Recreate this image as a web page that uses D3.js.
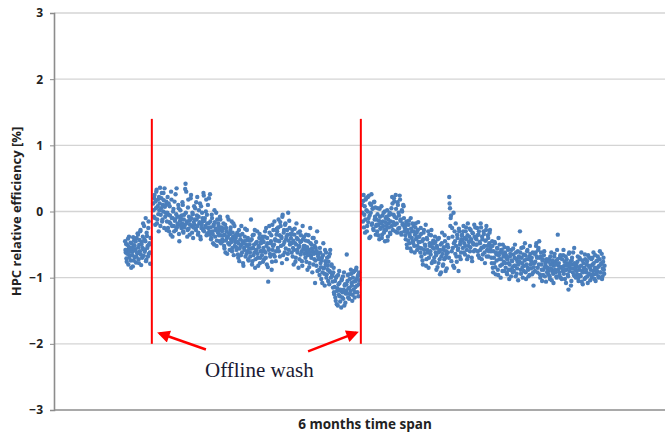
<!DOCTYPE html>
<html>
<head>
<meta charset="utf-8">
<script src="https://cdn.jsdelivr.net/npm/d3@7"></script>
<style>
  body { margin: 0; background: #fff; }
  svg { display: block; }
</style>
</head>
<body>
<svg width="670" height="436"></svg>
<script>
// y ticks
const yTicks = [-3, -2, -1, 0, 1, 2, 3];

// offline wash days (6 month span, in days)
const washDays = [29.3, 91.9];

// sampled efficiency values, evenly spaced inside each period
// (two logged channels per period, b is offset by half a sample)
const period1 = { start: 21.3, end: 29.0 };
const values1a = [
  -0.45,-0.62,-0.71,-0.50,-0.58,-0.80,-0.38,-0.66,-0.55,-0.74,
  -0.48,-0.61,-0.83,-0.52,-0.44,-0.69,-0.57,-0.77,-0.40,-0.63,
  -0.35,-0.72,-0.50,-0.60,-0.28,-0.81,-0.46,-0.55,-0.18,-0.67,
  -0.42,-0.58,-0.10,-0.73,-0.37,-0.52,-0.25,-0.64,-0.48,-0.79
];
const values1b = [
  -0.58,-0.49,-0.76,-0.64,-0.41,-0.53,-0.70,-0.60,-0.47,-0.85,
  -0.56,-0.66,-0.39,-0.74,-0.51,-0.59,-0.45,-0.68,-0.62,-0.33,
  -0.54,-0.78,-0.43,-0.30,-0.65,-0.50,-0.70,-0.38,-0.57,-0.22,
  -0.61,-0.45,-0.75,-0.32,-0.55,-0.68,-0.15,-0.50,-0.62,-0.40
];

const period2 = { start: 29.7, end: 91.6 };
const values2a = [
  0.12,-0.08,0.25,-0.20,0.05,0.33,-0.12,0.18,-0.30,0.02,0.36,-0.05,0.20,-0.15,0.10,0.28,-0.25,0.07,-0.02,0.15,
  -0.15,0.22,-0.05,-0.30,0.08,-0.18,0.30,-0.10,-0.38,0.00,-0.22,0.15,-0.12,-0.28,0.35,-0.08,-0.20,0.05,-0.45,-0.14,
  -0.10,-0.25,-0.18,0.10,-0.32,-0.05,-0.20,0.42,0.30,-0.15,-0.28,0.18,-0.08,-0.35,-0.12,0.25,-0.22,-0.02,-0.40,-0.16,
  -0.20,0.05,-0.28,-0.12,0.22,-0.35,-0.08,-0.18,0.12,-0.42,-0.25,-0.02,-0.15,0.28,-0.30,-0.10,-0.22,0.18,-0.05,-0.33,
  -0.25,0.20,-0.35,-0.15,-0.42,-0.05,-0.30,-0.48,-0.20,0.02,-0.38,-0.26,-0.52,-0.12,-0.32,-0.22,-0.45,-0.08,-0.36,-0.28,
  -0.30,-0.45,-0.18,-0.52,-0.35,-0.62,-0.25,-0.40,-0.08,-0.48,-0.33,-0.58,-0.28,-0.42,-0.15,-0.55,-0.38,-0.66,-0.22,-0.46,
  -0.40,-0.58,-0.32,-0.65,-0.48,-0.75,-0.36,-0.52,-0.22,-0.62,-0.45,-0.82,-0.55,-0.38,-0.68,-0.50,-0.28,-0.60,-0.72,-0.44,
  -0.50,-0.68,-0.12,-0.42,-0.75,-0.55,-0.35,-0.62,-0.85,-0.48,-0.58,-0.30,-0.70,-0.52,-0.40,-0.78,-0.60,-0.45,-0.66,-0.38,
  -0.55,-0.72,-0.38,-0.62,-0.25,-0.80,-0.48,-1.06,-0.58,-0.32,-0.68,-0.45,-0.88,-0.20,-0.52,-0.65,-0.15,-0.42,-0.75,-0.35,
  -0.30,-0.55,-0.12,-0.45,-0.68,-0.22,-0.38,-0.78,-0.05,-0.50,-0.28,-0.62,-0.18,-0.42,-0.72,-0.35,-0.02,-0.58,-0.25,-0.48,
  -0.40,-0.62,-0.28,-0.55,-0.80,-0.35,-0.48,-0.70,-0.18,-0.58,-0.42,-0.85,-0.52,-0.30,-0.65,-0.45,-0.75,-0.22,-0.56,-0.38,
  -0.52,-0.70,-0.35,-0.62,-0.88,-0.45,-0.58,-0.78,-0.25,-0.66,-0.50,-0.92,-0.60,-0.40,-0.72,-1.08,-0.55,-0.82,-0.30,-0.64,
  -0.65,-0.88,-0.55,-0.78,-1.02,-0.70,-0.92,-0.48,-0.85,-1.12,-0.75,-0.62,-0.95,-0.82,-1.05,-0.68,-0.90,-0.58,-1.00,-0.80,
  -0.95,-1.15,-0.85,-1.25,-1.05,-1.35,-0.98,-1.20,-1.42,-1.10,-0.90,-1.28,-1.18,-1.45,-1.02,-1.22,-1.32,-0.92,-1.12,-1.38,
  -1.20,-0.65,-1.05,-1.30,-0.95,-1.15,-1.25,-0.88,-1.08,-1.35,-1.00,-1.18,-0.90,-1.22,-1.05,-0.85,-1.12,-0.98,-1.28,-0.92
];
const values2b = [
  0.02,0.20,-0.10,0.15,0.30,-0.18,0.08,-0.04,0.22,0.12,-0.22,0.05,0.28,-0.12,0.00,0.17,0.35,-0.08,0.10,-0.28,
  -0.02,-0.25,0.12,-0.16,-0.06,-0.35,0.18,-0.22,-0.10,0.04,-0.30,-0.14,0.26,-0.04,-0.24,-0.18,0.10,-0.34,-0.08,0.02,
  -0.22,-0.06,0.14,-0.30,-0.12,-0.24,0.34,-0.02,-0.18,-0.38,0.06,-0.26,-0.14,-0.20,0.20,-0.10,-0.32,-0.04,-0.24,0.08,
  -0.12,-0.26,0.14,-0.06,-0.22,-0.32,0.02,-0.16,-0.38,0.08,-0.20,-0.10,-0.28,0.24,-0.14,-0.24,0.00,-0.36,-0.18,0.10,
  -0.18,-0.30,0.26,-0.24,-0.40,-0.10,-0.34,-0.22,-0.50,-0.16,-0.28,-0.02,-0.44,-0.30,-0.18,-0.36,-0.26,-0.12,-0.48,-0.24,
  -0.42,-0.26,-0.36,-0.56,-0.20,-0.44,-0.30,-0.64,-0.38,-0.12,-0.50,-0.34,-0.24,-0.46,-0.60,-0.32,-0.18,-0.42,-0.52,-0.36,
  -0.54,-0.36,-0.46,-0.70,-0.28,-0.56,-0.42,-0.66,-0.50,-0.34,-0.78,-0.48,-0.58,-0.26,-0.44,-0.64,-0.52,-0.40,-0.74,-0.56,
  -0.62,-0.44,-0.56,-0.80,-0.36,-0.66,-0.50,-0.28,-0.72,-0.58,-0.46,-0.64,-0.82,-0.54,-0.34,-0.70,-0.48,-0.60,-0.42,-0.76,
  -0.46,-0.60,-0.30,-0.70,-0.52,-0.40,-0.84,-0.56,-0.22,-0.64,-0.48,-0.36,-0.76,-0.58,-0.28,-0.50,-0.68,-0.44,-0.60,-0.26,
  -0.44,-0.24,-0.60,-0.36,-0.16,-0.52,-0.40,-0.08,-0.66,-0.32,-0.46,-0.20,-0.56,-0.38,-0.28,-0.64,-0.44,-0.14,-0.50,-0.34,
  -0.48,-0.34,-0.68,-0.44,-0.58,-0.26,-0.76,-0.50,-0.40,-0.62,-0.32,-0.54,-0.72,-0.46,-0.36,-0.60,-0.82,-0.42,-0.52,-0.64,
  -0.58,-0.44,-0.76,-0.54,-0.66,-0.36,-0.84,-0.62,-0.48,-0.70,-0.56,-0.40,-0.80,-0.64,-0.52,-0.74,-0.46,-0.60,-0.90,-0.68,
  -0.72,-0.96,-0.62,-0.84,-0.74,-1.08,-0.66,-0.86,-0.94,-0.58,-0.80,-1.00,-0.70,-0.88,-0.76,-1.10,-0.64,-0.92,-0.82,-0.98,
  -1.06,-0.92,-1.22,-1.14,-1.30,-1.00,-1.40,-1.16,-0.96,-1.26,-1.08,-1.36,-1.20,-1.04,-1.30,-0.98,-1.18,-1.42,-1.10,-1.24,
  -1.10,-1.24,-0.96,-1.16,-1.32,-1.02,-1.20,-0.94,-1.12,-1.26,-0.92,-1.06,-1.30,-1.14,-0.88,-1.02,-1.22,-0.96,-1.10,-1.04
];

const period3 = { start: 92.3, end: 165.0 };
const values3a = [
  0.10,-0.15,0.25,-0.05,-0.32,0.18,0.02,-0.22,0.22,-0.10,-0.40,0.12,-0.02,0.26,-0.18,0.05,-0.28,0.15,-0.08,-0.35,
  -0.12,-0.30,0.05,-0.20,-0.42,-0.08,-0.25,0.08,-0.35,-0.15,-0.02,-0.28,-0.45,-0.10,-0.22,0.02,-0.38,-0.18,-0.05,-0.32,
  -0.15,0.05,0.22,-0.28,-0.05,0.15,-0.20,0.25,-0.10,-0.32,0.10,-0.02,-0.25,0.18,-0.12,-0.35,0.00,-0.18,0.08,-0.30,
  -0.25,-0.42,-0.15,-0.55,-0.32,-0.20,-0.48,-0.38,-0.10,-0.60,-0.30,-0.45,-0.22,-0.52,-0.35,-0.18,-0.40,-0.58,-0.28,-0.46,
  -0.38,-0.55,-0.25,-0.68,-0.45,-0.80,-0.32,-0.58,-0.50,-0.20,-0.72,-0.42,-0.62,-0.85,-0.35,-0.52,-0.65,-0.28,-0.48,-0.75,
  -0.48,-0.70,-0.38,-0.62,-0.88,-0.55,-0.42,-0.78,-0.60,-0.95,-0.50,-0.68,-0.32,-0.82,-0.58,-0.72,-0.45,-0.90,-0.65,-0.52,
  -0.62,-0.40,0.22,0.05,-0.10,-0.75,-0.25,-0.55,-0.02,-0.85,-0.45,-0.18,-0.68,-0.35,-0.58,-0.90,-0.30,-0.50,-0.72,-0.42,
  -0.35,-0.55,-0.22,-0.48,-0.65,-0.30,-0.42,-0.72,-0.18,-0.52,-0.38,-0.60,-0.28,-0.45,-0.75,-0.33,-0.50,-0.20,-0.58,-0.40,
  -0.42,-0.25,-0.60,-0.35,-0.70,-0.48,-0.18,-0.55,-0.38,-0.65,-0.30,-0.52,-0.78,-0.44,-0.22,-0.58,-0.36,-0.68,-0.48,-0.28,
  -0.52,-0.70,-0.45,-0.85,-0.60,-0.78,-0.48,-0.95,-0.65,-0.55,-0.88,-0.40,-0.72,-0.62,-1.00,-0.58,-0.80,-0.50,-0.68,-0.90,
  -0.62,-0.85,-0.70,-0.95,-0.55,-0.78,-1.02,-0.68,-0.88,-0.58,-0.75,-0.92,-0.65,-0.82,-0.50,-0.98,-0.72,-0.86,-0.60,-0.80,
  -0.70,-0.30,-0.88,-0.55,-0.78,-1.00,-0.65,-0.82,-0.48,-0.92,-0.72,-0.60,-0.85,-0.98,-0.68,-0.52,-0.80,-0.75,-0.95,-0.62,
  -1.12,-0.78,-0.90,-0.62,-0.48,-0.70,-0.85,-0.55,-0.45,-0.95,-0.68,-0.80,-1.05,-0.72,-0.88,-0.60,-0.98,-0.82,-0.75,-0.92,
  -0.85,-0.95,-0.72,-1.02,-0.80,-0.62,-0.90,-0.78,-1.08,-0.68,-0.88,-0.75,-0.98,-0.58,-0.35,-0.82,-0.92,-0.70,-1.00,-0.85,
  -0.72,-0.90,-0.58,-0.82,-1.02,-0.68,-0.88,-0.78,-0.95,-1.18,-0.62,-0.85,-0.75,-1.05,-0.70,-0.92,-0.80,-0.55,-0.98,-0.84,
  -0.80,-0.95,-0.68,-1.05,-0.88,-0.72,-0.98,-0.62,-0.90,-1.10,-0.78,-0.85,-0.65,-1.00,-0.92,-0.75,-1.08,-0.82,-0.70,-0.95,
  -0.88,-0.72,-1.00,-0.80,-0.62,-0.95,-0.85,-1.05,-0.75,-0.90,-0.68,-0.98,-0.82,-0.60,-0.92,-0.78,-1.02,-0.86,-0.70,-0.94
];
const values3b = [
  -0.02,0.16,-0.24,0.08,-0.12,0.20,-0.30,0.00,-0.16,0.24,-0.06,-0.38,0.10,-0.20,0.04,-0.26,0.14,-0.12,0.06,-0.22,
  -0.20,-0.04,-0.36,-0.14,0.04,-0.26,-0.18,-0.40,-0.06,-0.22,-0.32,0.00,-0.16,-0.28,-0.08,-0.44,-0.12,-0.24,-0.02,-0.34,
  -0.04,-0.22,0.12,-0.16,0.20,-0.08,-0.30,0.04,-0.18,0.14,-0.26,-0.06,0.24,-0.14,-0.32,0.02,-0.20,0.10,-0.10,-0.24,
  -0.36,-0.20,-0.50,-0.28,-0.44,-0.14,-0.34,-0.56,-0.26,-0.40,-0.18,-0.48,-0.30,-0.62,-0.24,-0.42,-0.32,-0.52,-0.16,-0.38,
  -0.46,-0.62,-0.34,-0.56,-0.74,-0.42,-0.28,-0.64,-0.52,-0.82,-0.40,-0.58,-0.30,-0.70,-0.48,-0.60,-0.36,-0.78,-0.54,-0.44,
  -0.56,-0.76,-0.46,-0.66,-0.52,-0.84,-0.62,-0.40,-0.72,-0.58,-0.92,-0.48,-0.64,-0.80,-0.54,-0.36,-0.70,-0.60,-0.86,-0.50,
  -0.54,-0.70,0.12,-0.22,-0.06,-0.60,-0.38,-0.82,-0.48,-0.30,-0.64,-0.52,-0.76,-0.40,-0.56,-0.26,-0.68,-0.46,-0.62,-0.36,
  -0.44,-0.30,-0.62,-0.40,-0.52,-0.24,-0.58,-0.36,-0.68,-0.46,-0.26,-0.54,-0.42,-0.70,-0.32,-0.48,-0.60,-0.38,-0.24,-0.50,
  -0.50,-0.36,-0.66,-0.30,-0.46,-0.58,-0.24,-0.72,-0.42,-0.54,-0.34,-0.62,-0.44,-0.28,-0.68,-0.52,-0.40,-0.60,-0.32,-0.56,
  -0.60,-0.78,-0.52,-0.92,-0.70,-0.46,-0.84,-0.62,-0.74,-0.56,-0.96,-0.66,-0.50,-0.82,-0.72,-0.58,-0.90,-0.64,-0.76,-0.54,
  -0.78,-0.66,-0.92,-0.72,-0.58,-0.88,-0.80,-0.64,-0.98,-0.74,-0.84,-0.56,-0.90,-0.70,-0.82,-0.62,-0.94,-0.76,-1.04,-0.68,
  -0.76,-0.62,-0.94,-0.70,-0.84,-0.54,-0.90,-0.74,-0.66,-1.02,-0.80,-0.58,-0.88,-0.72,-0.96,-0.64,-0.86,-0.70,-0.78,-0.92,
  -0.84,-0.64,-0.76,-0.52,-0.68,-0.92,-0.58,-0.80,-0.70,-1.00,-0.62,-0.88,-0.74,-0.96,-0.66,-0.84,-0.78,-1.06,-0.72,-0.86,
  -0.90,-0.76,-0.98,-0.68,-0.86,-1.04,-0.74,-0.94,-0.82,-0.64,-0.92,-0.80,-1.00,-0.72,-0.88,-0.78,-0.96,-0.66,-0.84,-1.02,
  -0.84,-0.66,-0.94,-0.76,-0.88,-1.08,-0.72,-0.82,-0.98,-0.64,-0.90,-0.80,-1.12,-0.74,-0.86,-0.62,-0.96,-0.78,-0.88,-1.00,
  -0.90,-0.76,-1.00,-0.84,-0.70,-0.96,-0.82,-1.06,-0.74,-0.92,-0.86,-1.02,-0.72,-0.88,-0.80,-0.98,-0.66,-0.94,-0.84,-1.04,
  -0.82,-0.96,-0.70,-0.90,-0.78,-1.02,-0.66,-0.88,-0.94,-0.74,-0.84,-1.00,-0.72,-0.92,-0.80,-0.64,-0.98,-0.76,-0.88,-0.82
];

const width = 670;
const height = 436;
const margin = { top: 13, right: 5, bottom: 26, left: 54 };

// put the samples of each period on the time axis
let data = [];
[
  [period1, values1a, 0], [period1, values1b, 0.5],
  [period2, values2a, 0], [period2, values2b, 0.5],
  [period3, values3a, 0], [period3, values3b, 0.5]
].forEach(([p, vals, offset]) => {
  const step = (p.end - p.start) / vals.length;
  vals.forEach((v, i) => data.push({ day: p.start + (i + offset) * step, value: v }));
});

const xScale = d3.scaleLinear()
  .domain([0, 183])
  .range([margin.left, width - margin.right]);

const yScale = d3.scaleLinear()
  .domain([-3, 3])
  .range([height - margin.bottom, margin.top]);

const svg = d3.select("svg");

// gridlines
svg.append("g")
  .selectAll("line")
  .data(yTicks.filter(d => d > -3))
  .enter()
  .append("line")
  .attr("x1", margin.left)
  .attr("x2", width - margin.right)
  .attr("y1", d => yScale(d))
  .attr("y2", d => yScale(d))
  .attr("stroke", "#d4d4d4")
  .attr("stroke-width", 1.3);

// y axis
const yAxis = d3.axisLeft(yScale)
  .tickValues(yTicks)
  .tickFormat(d3.format("d"))
  .tickSize(4)
  .tickPadding(7);
const gy = svg.append("g")
  .attr("transform", `translate(${margin.left}, 0)`)
  .call(yAxis);
gy.select(".domain").attr("stroke", "#8c8c8c").attr("stroke-width", 1.6);
gy.selectAll(".tick line").attr("stroke", "#8c8c8c");
gy.selectAll(".tick text")
  .attr("font-family", "'Open Sans', sans-serif")
  .attr("font-weight", "bold")
  .attr("font-size", 12)
  .attr("fill", "#222");

// x axis line
svg.append("line")
  .attr("x1", margin.left)
  .attr("x2", width - margin.right)
  .attr("y1", yScale(-3))
  .attr("y2", yScale(-3))
  .attr("stroke", "#8c8c8c")
  .attr("stroke-width", 1.6);

// points
svg.append("g")
  .selectAll("circle")
  .data(data)
  .enter()
  .append("circle")
  .attr("cx", d => xScale(d.day))
  .attr("cy", d => yScale(d.value))
  .attr("r", 2.2)
  .attr("fill", "#4a7ebb");

// wash lines
svg.append("g")
  .selectAll("line")
  .data(washDays)
  .enter()
  .append("line")
  .attr("x1", d => xScale(d))
  .attr("x2", d => xScale(d))
  .attr("y1", yScale(1.4))
  .attr("y2", yScale(-2.0))
  .attr("stroke", "#ff0000")
  .attr("stroke-width", 2);

// arrows
svg.append("defs").append("marker")
  .attr("id", "head")
  .attr("viewBox", "0 0 10 10")
  .attr("refX", 8)
  .attr("refY", 5)
  .attr("markerWidth", 5.5)
  .attr("markerHeight", 5)
  .attr("orient", "auto")
  .append("path")
  .attr("d", "M0,0 L10,5 L0,10 z")
  .attr("fill", "#ff0000");

const arrows = [
  { from: [45.5, -2.085], to: [31.6, -1.84] },
  { from: [76.1, -2.115], to: [90.6, -1.83] }
];
svg.append("g")
  .selectAll("line")
  .data(arrows)
  .enter()
  .append("line")
  .attr("x1", d => xScale(d.from[0]))
  .attr("y1", d => yScale(d.from[1]))
  .attr("x2", d => xScale(d.to[0]))
  .attr("y2", d => yScale(d.to[1]))
  .attr("stroke", "#ff0000")
  .attr("stroke-width", 2.5)
  .attr("marker-end", "url(#head)");

svg.append("text")
  .attr("x", xScale(61.5))
  .attr("y", 377)
  .attr("text-anchor", "middle")
  .attr("font-family", "'Liberation Serif', serif")
  .attr("font-size", 21)
  .attr("fill", "#1a1a33")
  .text("Offline wash");

// axis titles
svg.append("text")
  .attr("x", 365)
  .attr("y", 429)
  .attr("text-anchor", "middle")
  .attr("font-family", "'Open Sans', sans-serif")
  .attr("font-weight", "bold")
  .attr("font-size", 13.5)
  .attr("fill", "#222")
  .text("6 months time span");

svg.append("text")
  .attr("transform", `translate(21, ${yScale(0)}) rotate(-90)`)
  .attr("text-anchor", "middle")
  .attr("font-family", "'Open Sans', sans-serif")
  .attr("font-weight", "bold")
  .attr("font-size", 13)
  .attr("fill", "#222")
  .text("HPC relative efficiency [%]");
</script>
</body>
</html>
